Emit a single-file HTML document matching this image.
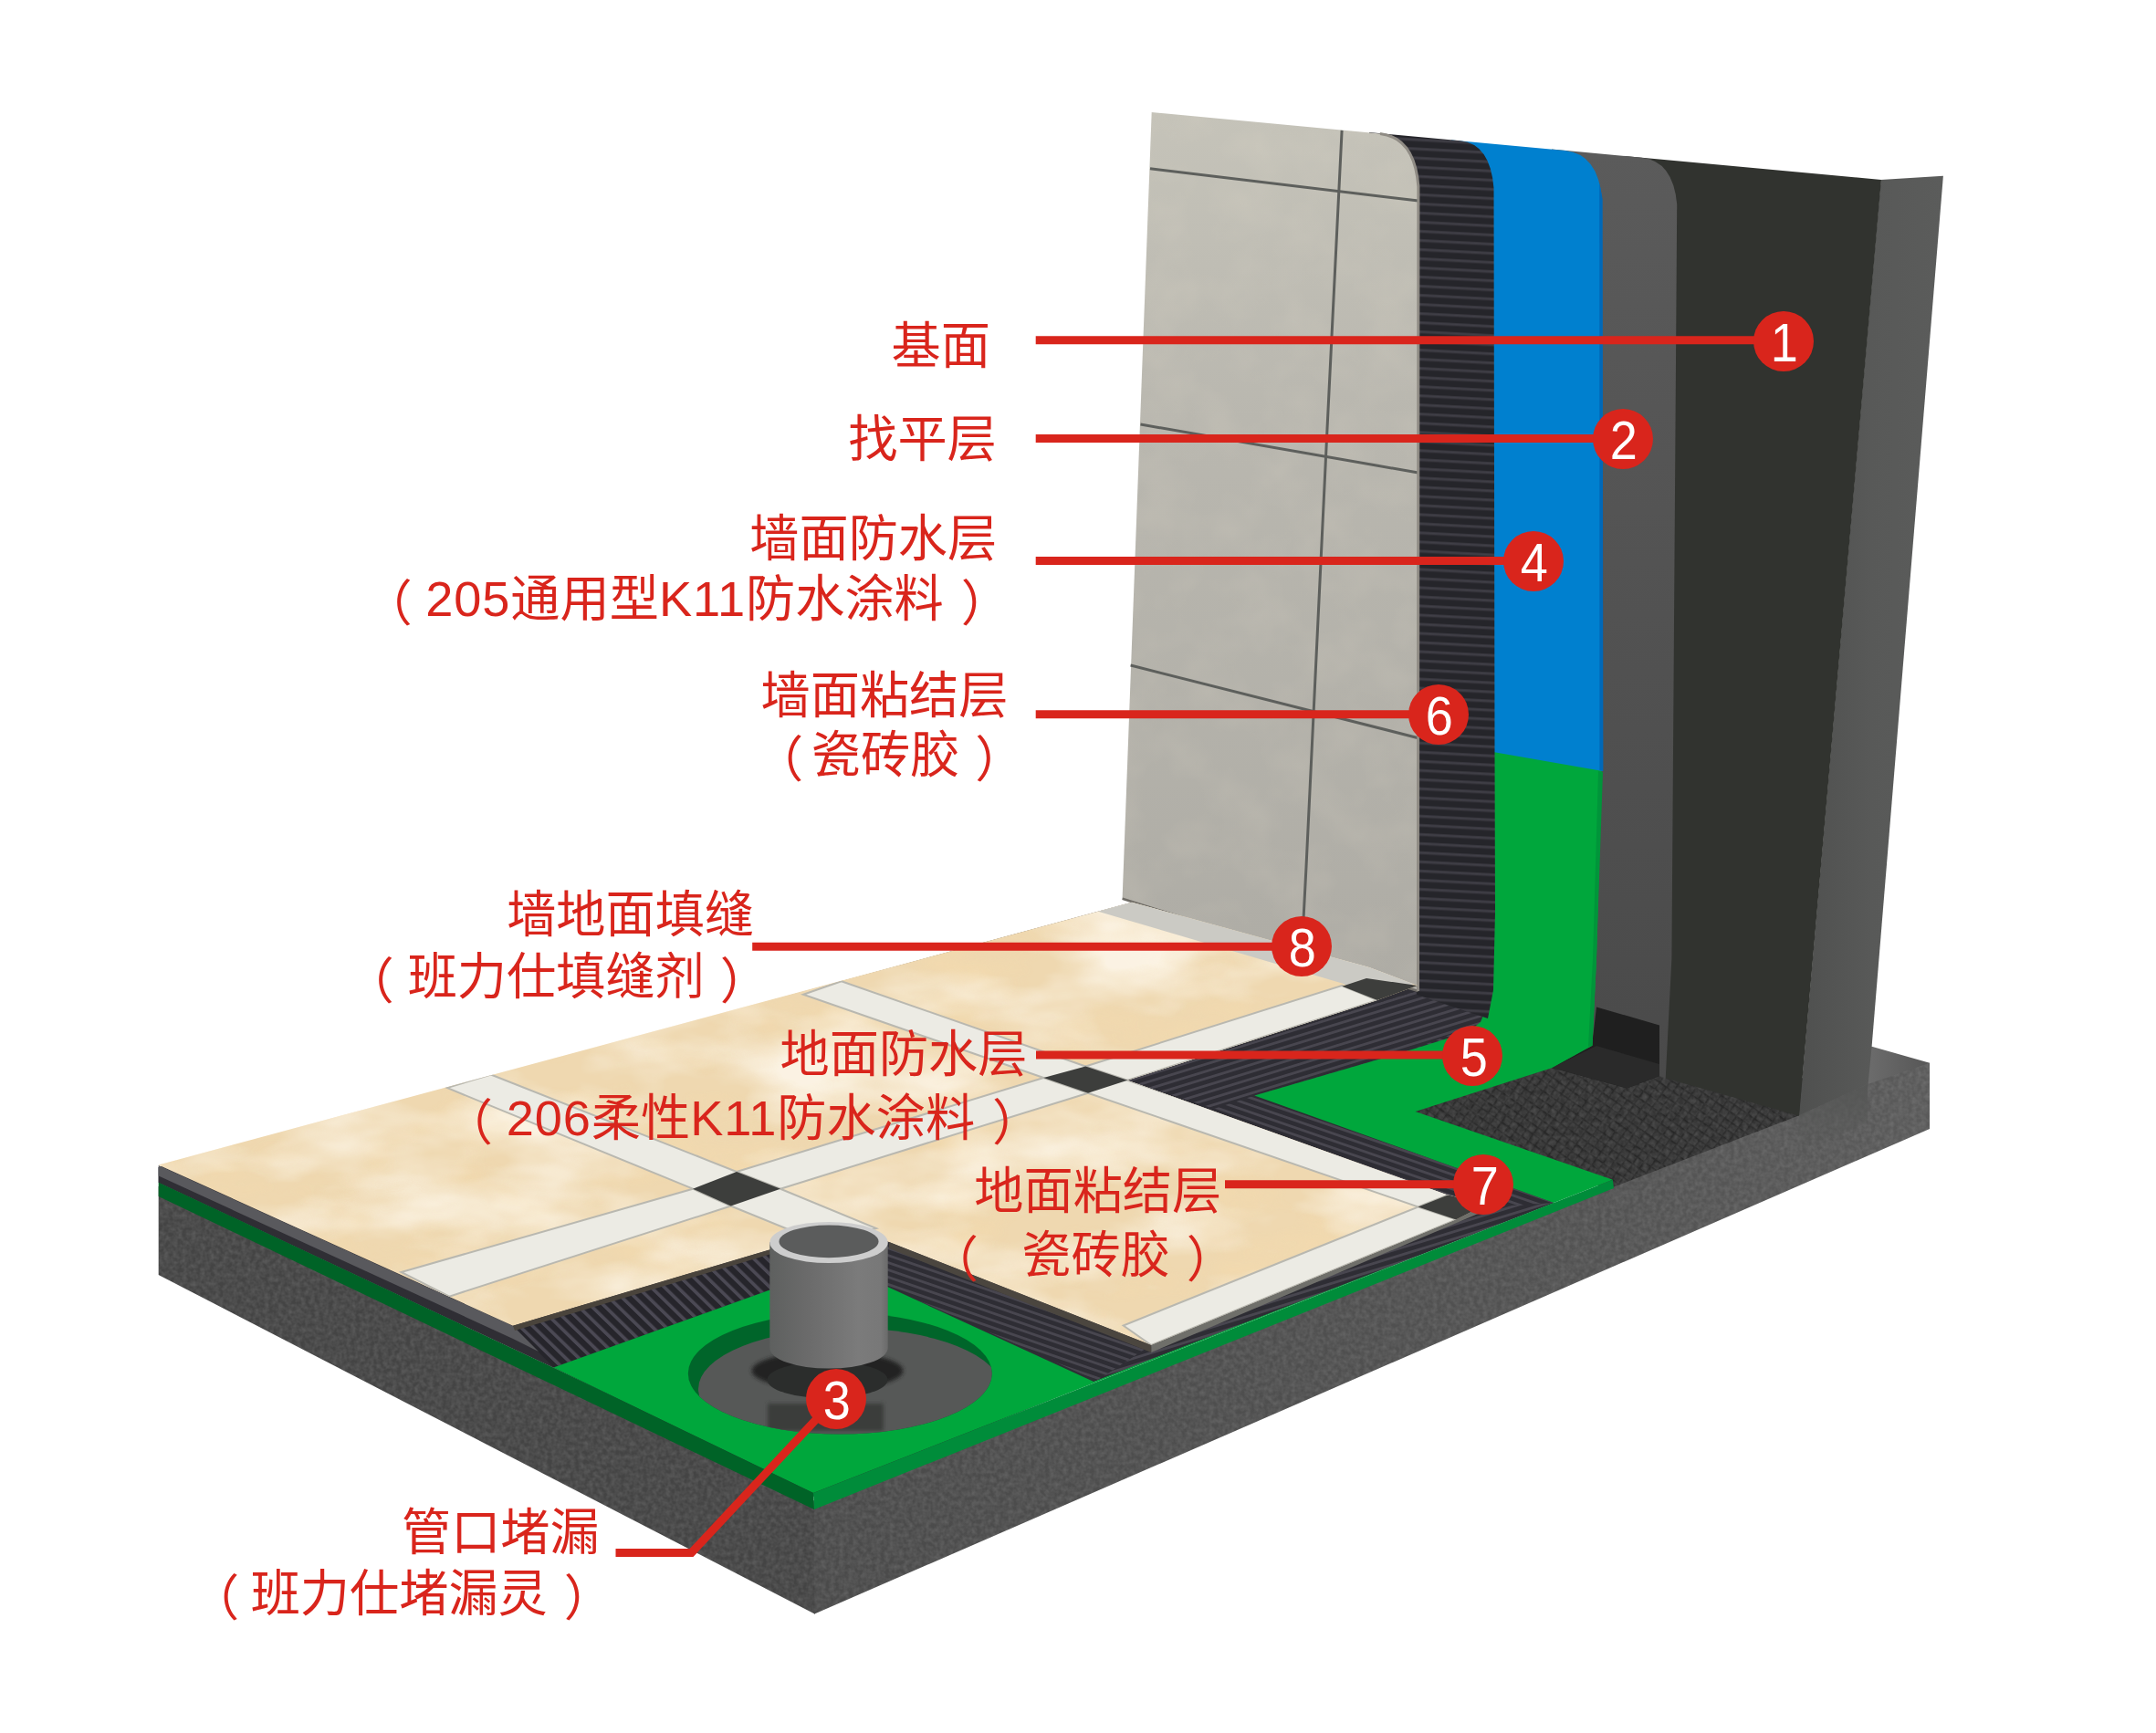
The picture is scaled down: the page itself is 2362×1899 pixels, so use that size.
<!DOCTYPE html>
<html lang="zh-CN"><head><meta charset="utf-8"><title>防水系统构造图</title>
<style>
html,body{margin:0;padding:0;background:#fff;}
body{width:2362px;height:1899px;overflow:hidden;position:relative;font-family:"Liberation Sans","Noto Sans CJK SC",sans-serif;}
svg{position:absolute;left:0;top:0;display:block}
.lb{position:absolute;color:#d9251c;font-size:54.2px;line-height:60px;white-space:nowrap;letter-spacing:0;}
.num{position:absolute;width:66px;height:66px;border-radius:50%;background:#d9251c;color:#fff;font-size:60px;line-height:68px;text-align:center;}
.num span{display:inline-block;transform:translate(1px,1px) scaleX(0.9);}
.lt{letter-spacing:0.9px}
.pr{position:relative;top:5px}
</style></head><body>
<svg width="2362" height="1899" viewBox="0 0 2362 1899">
<defs>
<filter id="noise" x="0" y="0" width="100%" height="100%"><feTurbulence type="fractalNoise" baseFrequency="0.2" numOctaves="2" seed="3"/><feColorMatrix type="matrix" values="0 0 0 0 0.5  0 0 0 0 0.5  0 0 0 0 0.5  0.9 0 0 0 -0.25"/><feComposite in2="SourceGraphic" operator="in"/></filter>
<filter id="marble" x="0" y="0" width="100%" height="100%"><feTurbulence type="fractalNoise" baseFrequency="0.006 0.014" numOctaves="4" seed="8"/><feColorMatrix type="matrix" values="0 0 0 0 1  0 0 0 0 0.97  0 0 0 0 0.9  2.2 0 0 0 -0.85"/><feComposite in2="SourceGraphic" operator="in"/></filter>
<filter id="marble2" x="0" y="0" width="100%" height="100%"><feTurbulence type="fractalNoise" baseFrequency="0.01 0.02" numOctaves="3" seed="21"/><feColorMatrix type="matrix" values="0 0 0 0 0.93  0 0 0 0 0.72  0 0 0 0 0.42  0 1.8 0 0 -0.8"/><feComposite in2="SourceGraphic" operator="in"/></filter>
<filter id="wallmarble" x="0" y="0" width="100%" height="100%"><feTurbulence type="fractalNoise" baseFrequency="0.02" numOctaves="3" seed="5"/><feColorMatrix type="matrix" values="0 0 0 0 0.88  0 0 0 0 0.80  0 0 0 0 0.66  1.6 0 0 0 -0.6"/><feComposite in2="SourceGraphic" operator="in"/></filter>
<filter id="blur2" x="-10%" y="-30%" width="120%" height="160%"><feGaussianBlur stdDeviation="2"/></filter>
<pattern id="meshW" width="40" height="10" patternUnits="userSpaceOnUse" patternTransform="rotate(3)"><rect width="40" height="10" fill="#25252a"/><rect y="0" width="40" height="3.4" fill="#37363d"/><rect y="0.9" width="40" height="1.5" fill="#403f47"/></pattern>
<pattern id="meshA" width="20" height="7.5" patternUnits="userSpaceOnUse" patternTransform="rotate(-17)"><rect width="20" height="7.5" fill="#2e2d34"/><rect y="0" width="20" height="2.8" fill="#48464f"/></pattern>
<pattern id="meshB" width="20" height="7.5" patternUnits="userSpaceOnUse" patternTransform="rotate(19)"><rect width="20" height="7.5" fill="#2e2d34"/><rect y="0" width="20" height="2.8" fill="#48464f"/></pattern>
<pattern id="meshP" width="11" height="20" patternUnits="userSpaceOnUse" patternTransform="skewY(-17) skewX(38)"><rect width="11" height="20" fill="#26252b"/><rect x="0" width="4" height="20" fill="#4b4954"/></pattern>
<pattern id="hatch" width="9" height="9" patternUnits="userSpaceOnUse" patternTransform="rotate(35)"><rect width="9" height="9" fill="#353535"/><rect width="9" height="1.6" fill="#262626"/><rect width="1.6" height="9" fill="#282828"/></pattern>
<linearGradient id="pipeG" x1="0" x2="1" y1="0" y2="0"><stop offset="0" stop-color="#5e605f"/><stop offset="0.3" stop-color="#6a6a6a"/><stop offset="0.75" stop-color="#7b7b7b"/><stop offset="0.94" stop-color="#787878"/><stop offset="1" stop-color="#6a6a6a"/></linearGradient>
<linearGradient id="sideG" x1="0" x2="1" y1="0" y2="0"><stop offset="0" stop-color="#4f504f"/><stop offset="0.5" stop-color="#585958"/><stop offset="1" stop-color="#5b5c5b"/></linearGradient>
<linearGradient id="wtG" x1="0" x2="0" y1="0" y2="1"><stop offset="0" stop-color="#c5c3b9"/><stop offset="0.35" stop-color="#b9b7af"/><stop offset="1" stop-color="#aeaca5"/></linearGradient>
<linearGradient id="greyG" x1="0" x2="0" y1="0" y2="1"><stop offset="0" stop-color="#5b5b5b"/><stop offset="0.5" stop-color="#525252"/><stop offset="1" stop-color="#4a4a4a"/></linearGradient>
</defs>

<polygon points="1480.0,1150.0 1830.0,1100.0 1990.0,1190.0 1975.0,1226.0 1768.0,1305.0 1540.0,1228.0" fill="url(#hatch)" />
<g filter="url(#noise)" opacity="0.3"><polygon points="1480.0,1150.0 1830.0,1100.0 1990.0,1190.0 1975.0,1226.0 1768.0,1305.0 1540.0,1228.0" fill="#000" /></g>
<linearGradient id="slvG" x1="0" x2="1" y1="0" y2="0"><stop offset="0" stop-color="#6e6e6e"/><stop offset="1" stop-color="#565656"/></linearGradient>
<polygon points="2040.0,1150.0 2050.6,1146.8 2114.0,1164.7 2114.0,1168.0 2046.2,1192.0" fill="url(#slvG)" />
<polygon points="2060.6,197.0 2128.9,192.7 2050.6,1146.8 2046.2,1192.0 1970.5,1226.0" fill="url(#sideG)" />
<polygon points="173.7,1300.0 893.0,1645.0 893.0,1768.8 173.7,1397.0" fill="#444444" />
<linearGradient id="frontG" gradientUnits="userSpaceOnUse" x1="892" y1="0" x2="2114" y2="0"><stop offset="0" stop-color="#4a4a4a"/><stop offset="0.7" stop-color="#525252"/><stop offset="1" stop-color="#5a5a5a"/></linearGradient>
<polygon points="892.0,1645.0 1766.8,1301.0 1970.5,1222.5 2046.2,1188.0 2114.0,1164.7 2114.0,1237.0 892.3,1768.5" fill="url(#frontG)" />
<g filter="url(#noise)" opacity="0.35"><polygon points="173.7,1300.0 893.0,1645.0 893.0,1768.8 173.7,1397.0" fill="#000" /><polygon points="892.0,1645.0 1766.8,1301.0 1970.5,1222.5 2046.2,1188.0 2114.0,1164.7 2114.0,1237.0 892.3,1768.5" fill="#000" /></g>
<linearGradient id="joinG" x1="0" x2="0" y1="0" y2="1"><stop offset="0" stop-color="#565756" stop-opacity="1"/><stop offset="1" stop-color="#565756" stop-opacity="0"/></linearGradient>
<polygon points="1970.5,1222.5 2046.2,1188.0 2046.2,1230.0 1970.5,1265.0" fill="url(#joinG)" />
<polygon points="1780.0,171.0 2061.0,197.0 1971.0,1222.8 1824.7,1181.4 1820.0,700.0" fill="#31332f" />
<path d="M1700,163.6 L1798.4,172.7 Q1833,176.2 1837.2,224 L1831.4,1050 L1824.7,1181.4 L1740,1150 Z" fill="url(#greyG)" />
<polygon points="1749.0,1103.4 1818.0,1123.5 1818.0,1179.0 1782.4,1192.5 1700.0,1170.0 1744.0,1146.0" fill="#1f1f1f" />
<polygon points="1749.0,1146.0 1818.0,1166.0 1818.0,1179.0 1782.4,1192.5 1700.0,1170.0" fill="#2a2a2a" />
<polygon points="173.7,1279.0 1203.0,998.7 1240.0,988.7 1560.0,1075.0 1640.0,1112.0 1500.0,1190.0 1702.5,1318.0 1201.5,1513.0 892.0,1640.0 606.4,1498.6 173.7,1296.0" fill="#2f2e35" />
<polygon points="1235.0,1184.0 1552.0,1086.0 1640.0,1114.0 1560.0,1150.0 1374.3,1200.5 1702.5,1318.0 1660.0,1330.0 1584.0,1309.0" fill="url(#meshB)" />
<polygon points="1235.0,1184.0 1552.0,1086.0 1640.0,1114.0 1547.0,1150.0 1374.3,1200.5 1330.0,1215.0" fill="url(#meshA)" />
<polygon points="929.0,1344.0 1261.3,1474.0 1201.5,1513.0 920.0,1386.0" fill="url(#meshB)" />
<polygon points="1261.3,1474.0 1589.7,1339.0 1640.0,1322.0 1702.5,1318.0 1201.5,1513.0" fill="url(#meshA)" />
<polygon points="562.0,1452.7 929.0,1344.0 920.0,1386.0 606.4,1498.6" fill="url(#meshP)" />
<polygon points="606.4,1498.6 920.0,1386.0 1198.2,1514.0 1702.5,1318.0 1374.3,1200.5 1547.0,1150.0 1608.0,1131.0 1622.0,1120.0 1630.0,1100.0 1630.0,1000.0 1630.0,800.0 1756.0,800.0 1749.0,1050.0 1744.5,1145.7 1700.0,1170.2 1550.6,1218.0 1766.8,1292.7 891.0,1636.0" fill="#00a73c" />
<path d="M1590,153.4 L1714.7,164.9 Q1751,168.6 1755.2,219 L1756,845 L1630,823 L1590,500 Z" fill="#0080cf" />
<path d="M1752.2,200 L1755.6,217.8 L1756.4,845 L1752.4,844 Z" fill="#0068b8" />
<polygon points="1751.0,845.0 1756.0,846.0 1749.0,1050.0 1744.5,1145.7 1740.0,1147.0 1745.0,1050.0" fill="#00953a" />
<polygon points="173.7,1295.4 606.4,1498.6 891.0,1636.0 892.0,1654.0 173.7,1311.0" fill="#006327" />
<polygon points="891.0,1636.0 1766.8,1292.7 1768.0,1302.0 892.0,1654.0" fill="#008c3a" />
<polygon points="173.7,1279.0 562.0,1455.0 606.4,1498.6 173.7,1295.4" fill="#2f2e34" />
<polygon points="173.7,1277.0 562.0,1453.0 590.0,1481.0 562.0,1467.0 173.7,1288.5" fill="#59595d" />
<path d="M1500,145.1 L1600,154.3 Q1632.5,157.6 1636.5,206 L1637.5,823 L1638,1000 L1636,1085 L1630,1116 L1552,1090 L1500,600 Z" fill="url(#meshW)" />
<path d="M1261.7,123 L1512,146.4 Q1550,151 1553.9,204.6 L1553.5,1086 L1229.6,984.8 Z" fill="url(#wtG)" />
<g filter="url(#wallmarble)" opacity="0.12"><path d="M1261.7,123 L1512,146.4 Q1550,151 1553.9,204.6 L1553.5,1086 L1229.6,984.8 Z" fill="#000" /></g>
<path d="M1260,184.7 L1553.9,220" stroke="#5d5f5c" stroke-width="3" fill="none" stroke-linecap="butt"/>
<path d="M1249.5,465 L1553.8,518" stroke="#5d5f5c" stroke-width="3" fill="none" stroke-linecap="butt"/>
<path d="M1238.6,729 L1553.8,808.7" stroke="#5d5f5c" stroke-width="3" fill="none" stroke-linecap="butt"/>
<path d="M1470.1,142.9 L1454,470 L1431,950 L1426,1046" stroke="#5d5f5c" stroke-width="3" fill="none" stroke-linecap="butt"/>
<path d="M1229.6,984.8 L1553.5,1086" stroke="#6f6c66" stroke-width="2.5" fill="none"/>
<path d="M1512,146.4 Q1550,151 1553.9,204.6 L1553.5,1086" stroke="#8f8b84" stroke-width="3" fill="none"/>
<clipPath id="tileclip"><polygon points="173.7,1276.5 1203.0,998.7 1240.0,988.7 1500.0,1060.0 1553.0,1080.0 1509.0,1096.0 1235.2,1183.8 1584.5,1309.0 1628.7,1319.7 1595.3,1336.4 1261.3,1474.0 974.0,1361.0 929.0,1344.0 562.0,1452.7"/></clipPath>
<g clip-path="url(#tileclip)">
<rect x="150" y="950" width="1550" height="560" fill="#efd8b0"/>
<g filter="url(#marble2)" opacity="0.55"><rect x="150" y="950" width="1550" height="560" fill="#000"/></g>
<g filter="url(#marble)" opacity="0.75"><rect x="150" y="950" width="1550" height="560" fill="#000"/></g>
<polygon points="1203.0,998.7 1240.0,980.0 1553.0,1076.0 1509.0,1096.0 1470.4,1077.5" fill="#cbcac4" />
<polygon points="1470.0,1080.0 1509.0,1096.0 1235.2,1183.8 1192.0,1197.7 855.0,1302.7 800.7,1321.5 492.3,1420.6 439.5,1394.0 759.0,1302.7 807.0,1284.0 1143.3,1181.0 1189.3,1168.5" fill="#ecebe4" stroke="#b9b8b0" stroke-width="2"/>
<polygon points="921.8,1075.2 1189.3,1168.5 1235.2,1183.8 1592.5,1307.0 1553.6,1322.5 1192.0,1197.7 1143.3,1181.0 880.0,1089.8" fill="#ecebe4" stroke="#b9b8b0" stroke-width="2"/>
<polygon points="537.8,1177.5 807.0,1284.0 855.0,1302.7 960.0,1346.0 900.0,1362.0 800.7,1321.5 759.0,1302.7 489.7,1192.0" fill="#ecebe4" stroke="#b9b8b0" stroke-width="2"/>
<polygon points="1553.6,1322.5 1595.3,1336.4 1261.3,1474.0 1230.7,1452.5" fill="#ecebe4" stroke="#b9b8b0" stroke-width="2"/>
<polygon points="1189.3,1168.5 1235.2,1183.8 1192.0,1197.7 1143.3,1181.0" fill="#3d3e3c" />
<polygon points="807.0,1284.0 855.0,1302.7 800.7,1321.5 759.0,1302.7" fill="#3d3e3c" />
<polygon points="1592.5,1307.0 1628.7,1319.7 1595.3,1336.4 1553.6,1322.5" fill="#3d3e3c" />
<polygon points="1470.4,1080.8 1497.0,1072.0 1553.0,1080.0 1553.0,1088.0 1509.0,1096.0" fill="#3d3e3c" />
</g>
<polygon points="562.0,1452.7 929.0,1344.0 929.0,1349.0 564.0,1458.0" fill="#4a443c" />
<polygon points="974.0,1361.0 1261.3,1474.0 1261.3,1482.0 974.0,1368.0" fill="#4b463f" />
<polygon points="1261.3,1474.0 1595.3,1336.4 1628.7,1319.7 1628.7,1326.0 1261.3,1482.0" fill="#6f6f6a" />
<ellipse cx="920.3" cy="1505" rx="166.5" ry="66.5" fill="#00652a"/>
<clipPath id="holeclip"><ellipse cx="920.3" cy="1505" rx="166.5" ry="66.5"/></clipPath>
<g clip-path="url(#holeclip)"><ellipse cx="931" cy="1522" rx="166" ry="66.5" fill="#565857"/>
<ellipse cx="906.5" cy="1502" rx="83" ry="21" fill="#202221" filter="url(#blur2)"/>
<ellipse cx="906.5" cy="1512" rx="66" ry="20" fill="#2b2d2c"/>
<rect x="841" y="1538" width="127" height="30" fill="#3a3c3b" filter="url(#blur2)"/>
</g>
<path d="M843.3,1361 L843.3,1477 A64.7,22.6 0 0 0 972.7,1477 L972.7,1361 Z" fill="url(#pipeG)"/>
<ellipse cx="908" cy="1361.5" rx="64.7" ry="22.6" fill="#cdcdcd"/>
<ellipse cx="908" cy="1360.4" rx="54.5" ry="17.8" fill="#5b5c5c"/>
</svg>
<svg width="2362" height="1899" viewBox="0 0 2362 1899">
<line x1="1134.7" y1="372.8" x2="1953" y2="372.8" stroke="#d9251c" stroke-width="9"/>
<line x1="1134.7" y1="480.5" x2="1777" y2="480.5" stroke="#d9251c" stroke-width="9"/>
<line x1="1134.7" y1="614.5" x2="1680" y2="614.5" stroke="#d9251c" stroke-width="9"/>
<line x1="1134.7" y1="782.8" x2="1576" y2="782.8" stroke="#d9251c" stroke-width="9"/>
<line x1="824.2" y1="1037.2" x2="1426" y2="1037.2" stroke="#d9251c" stroke-width="9"/>
<line x1="1135" y1="1156" x2="1613" y2="1156" stroke="#d9251c" stroke-width="9"/>
<line x1="1342" y1="1297.7" x2="1625" y2="1297.7" stroke="#d9251c" stroke-width="9"/>
<polyline points="674.5,1701.6 757.5,1701.6 915,1533" stroke="#d9251c" stroke-width="9" fill="none"/>
</svg>
<div class="num" style="left:1920.5px;top:340.5px"><span>1</span></div>
<div class="num" style="left:1744.5px;top:448.0px"><span>2</span></div>
<div class="num" style="left:1647.0px;top:582.0px"><span>4</span></div>
<div class="num" style="left:1543.0px;top:750.0px"><span>6</span></div>
<div class="num" style="left:1393.0px;top:1004.0px"><span>8</span></div>
<div class="num" style="left:1580.3px;top:1123.5px"><span>5</span></div>
<div class="num" style="left:1592.4px;top:1265.0px"><span>7</span></div>
<div class="num" style="left:882.7px;top:1499.5px"><span>3</span></div>
<div class="lb" id="L1" style="right:1277.0px;top:348.5px">基面</div>
<div class="lb" id="L2" style="right:1270.2px;top:451.0px">找平层</div>
<div class="lb" id="L3" style="right:1269.8px;top:560.0px">墙面防水层</div>
<div class="lb" id="L4" style="right:1255.0px;top:626.0px"><span class="pr" style="margin-right:14.499999999999147px">（</span><span class="lt">205</span>通用型<span class="lt">K11</span>防水涂料<span class="pr" style="margin-left:19px">）</span></div>
<div class="lb" id="L5" style="right:1257.5px;top:731.5px">墙面粘结层</div>
<div class="lb" id="L6" style="right:1239.5px;top:796.5px"><span class="pr" style="margin-right:8.499999999999318px">（</span>瓷砖胶<span class="pr" style="margin-left:17px">）</span></div>
<div class="lb" id="L7" style="right:1535.9px;top:972.0px">墙地面填缝</div>
<div class="lb" id="L8" style="right:1519.0px;top:1039.5px"><span class="pr" style="margin-right:15.00000000000017px">（</span>班力仕填缝剂<span class="pr" style="margin-left:17px">）</span></div>
<div class="lb" id="L9" style="right:1236.5px;top:1124.5px">地面防水层</div>
<div class="lb" id="L10" style="right:1220.7px;top:1194.5px"><span class="pr" style="margin-right:14.800000000000068px">（</span><span class="lt">206</span>柔性<span class="lt">K11</span>防水涂料<span class="pr" style="margin-left:19px">）</span></div>
<div class="lb" id="L11" style="right:1023.8px;top:1275.0px">地面粘结层</div>
<div class="lb" id="L12" style="right:1008.0px;top:1344.9px"><span class="pr" style="margin-right:47.39999999999918px">（</span>瓷砖胶<span class="pr" style="margin-left:18px">）</span></div>
<div class="lb" id="L13" style="right:1705.3px;top:1648.9px">管口堵漏</div>
<div class="lb" id="L14" style="right:1690.0px;top:1715.9px"><span class="pr" style="margin-right:12.500000000000597px">（</span>班力仕堵漏灵<span class="pr" style="margin-left:18px">）</span></div>
</body></html>
